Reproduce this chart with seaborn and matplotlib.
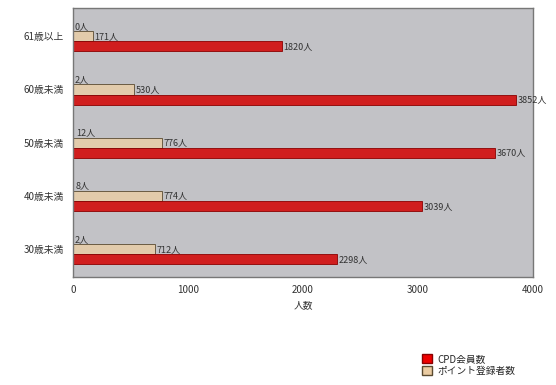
import numpy as np
import pandas as pd
import matplotlib
matplotlib.use("Agg")
import matplotlib.pyplot as plt
import matplotlib.ticker as mticker
from matplotlib.patches import Patch
import seaborn as sns

sns.set_style("white")
plt.rcParams["font.family"] = ["Noto Sans CJK JP", "DejaVu Sans"]

# ── Data ─────────────────────────────────────────────────────────────────────
ages = ["61歳以上", "60歳未満", "50歳未満", "40歳未満", "30歳未満"]
cpd_members = [1820, 3852, 3670, 3039, 2298]
point_members = [171, 530, 776, 774, 712]
other_members = [0, 2, 12, 8, 2]

S_CPD = "CPD会員数"
S_POINT = "ポイント登録者数"
S_OTHER = "その他"

C_CPD = "#ee0000"
C_POINT = "#ebcca2"
C_OTHER = "#c2c2c6"

df = pd.concat(
    [
        pd.DataFrame({"age": ages, "series": S_OTHER, "value": other_members}),
        pd.DataFrame({"age": ages, "series": S_POINT, "value": point_members}),
        pd.DataFrame({"age": ages, "series": S_CPD, "value": cpd_members}),
    ]
)

fig = plt.figure(figsize=(5.56, 3.85), dpi=100)
ax = fig.add_axes([73 / 556, 1 - 277 / 385, 460 / 556, 269 / 385])
ax.set_facecolor("#c2c2c6")

sns.barplot(
    data=df,
    x="value",
    y="age",
    hue="series",
    hue_order=[S_OTHER, S_POINT, S_CPD],
    order=ages,
    palette={S_OTHER: C_OTHER, S_POINT: C_POINT, S_CPD: C_CPD},
    orient="h",
    width=0.57,
    gap=0,
    legend=False,
    ax=ax,
)

edges = {0: "none", 1: "#5a4a30", 2: "#8a0000"}
for i, cont in enumerate(ax.containers):
    for bar in cont:
        bar.set_edgecolor(edges[i])
        bar.set_linewidth(0.6)
    vals = [other_members, point_members, cpd_members][i]
    ax.bar_label(
        cont,
        labels=[f"{v}人" for v in vals],
        padding=1,
        fontsize=6.5,
        color="#333333",
    )

ax.set_xlim(0, 4000)
ax.set_ylim(4.52, -0.53)
ax.xaxis.set_major_locator(mticker.MultipleLocator(1000))
ax.xaxis.set_minor_locator(mticker.MultipleLocator(500))
ax.tick_params(axis="x", which="both", direction="inout", length=4, labelsize=7,
               colors="#333333")
ax.tick_params(axis="y", length=3, labelsize=7, colors="#333333")
ax.set_xlabel("人数", fontsize=7, color="#333333")
ax.set_ylabel("")
for s in ax.spines.values():
    s.set_color("#777777")
    s.set_linewidth(1)

handles = [
    Patch(facecolor=C_CPD, edgecolor="#8a0000", label=S_CPD),
    Patch(facecolor=C_POINT, edgecolor="#5a4a30", label=S_POINT),
]
fig.legend(
    handles=handles,
    loc="upper left",
    bbox_to_anchor=(418 / 556, 1 - 350 / 385),
    frameon=False,
    fontsize=7,
    handlelength=1.0,
    handleheight=1.0,
    handletextpad=0.6,
    labelspacing=0.2,
    borderaxespad=0,
)

fig.savefig("out.png", dpi=100)
